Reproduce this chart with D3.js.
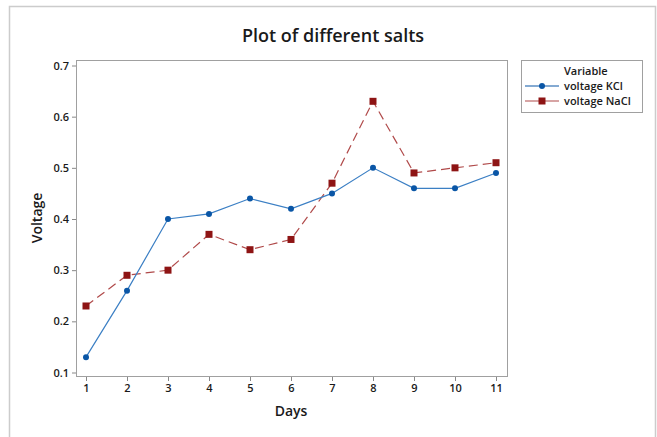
<!doctype html>
<html lang="en">
  <head>
    <title>Plot of different salts</title>
    <style>
      body {
        margin: 0;
        background: #fff;
      }
      svg text {
        font-family: "Open Sans", "Noto Sans", sans-serif;
        fill: #1a1a1a;
      }
    </style>
  </head>
  <body>
    <div id="chart"></div>

    <script src="https://cdn.jsdelivr.net/npm/d3@7"></script>
    <script>
      const days = [1, 2, 3, 4, 5, 6, 7, 8, 9, 10, 11]
      const voltageKCl = [0.13, 0.26, 0.40, 0.41, 0.44, 0.42, 0.45, 0.50, 0.46, 0.46, 0.49]
      const voltageNaCl = [0.23, 0.29, 0.30, 0.37, 0.34, 0.36, 0.47, 0.63, 0.49, 0.50, 0.51]
      const yTicks = [0.1, 0.2, 0.3, 0.4, 0.5, 0.6, 0.7]
      const seriesNames = ['voltage KCl', 'voltage NaCl']

      const width = 657
      const height = 437
      const plot = { left: 76, top: 61, right: 507, bottom: 377 }

      const svg = d3.select('#chart')
        .append('svg')
          .attr('width', width)
          .attr('height', height)

      // outer frame (open at the bottom)
      svg.append('path')
        .attr('d', `M9.5,${height} V6.5 H655.5 V${height}`)
        .attr('fill', 'none')
        .attr('stroke', '#cccccc')
        .attr('stroke-width', 1.5)

      svg.append('text')
        .attr('x', 333)
        .attr('y', 42)
        .attr('text-anchor', 'middle')
        .attr('font-size', 18)
        .attr('font-weight', 600)
        .text('Plot of different salts')

      const x = d3.scaleLinear()
        .domain([1, 11])
        .range([86, 496])

      const y = d3.scaleLinear()
        .domain([0.1, 0.7])
        .range([372.5, 65.5])

      // plot box
      svg.append('rect')
        .attr('x', plot.left + 0.5)
        .attr('y', plot.top - 0.5)
        .attr('width', plot.right - plot.left)
        .attr('height', plot.bottom - plot.top)
        .attr('fill', 'none')
        .attr('stroke', '#a0a0a0')
        .attr('stroke-width', 1)

      const xAxis = d3.axisBottom(x)
        .tickValues(days)
        .tickSize(4)
        .tickPadding(3)
        .tickFormat(d3.format('d'))

      const yAxis = d3.axisLeft(y)
        .tickValues(yTicks)
        .tickSize(4)
        .tickPadding(3)
        .tickFormat(d3.format('.1f'))

      const gx = svg.append('g')
        .attr('transform', `translate(0, ${plot.bottom})`)
        .call(xAxis)
      const gy = svg.append('g')
        .attr('transform', `translate(${plot.left}, 0)`)
        .call(yAxis)

      for (const g of [gx, gy]) {
        g.select('.domain').remove()
        g.selectAll('.tick line').attr('stroke', '#888')
        g.selectAll('.tick text')
          .attr('font-size', 11)
          .attr('font-weight', 600)
          .attr('fill', '#1a1a1a')
          .style('font-family', '"Open Sans", sans-serif')
      }

      svg.append('text')
        .attr('x', 291)
        .attr('y', 416)
        .attr('text-anchor', 'middle')
        .attr('font-size', 14)
        .attr('font-weight', 600)
        .text('Days')

      svg.append('text')
        .attr('transform', 'translate(42, 218) rotate(-90)')
        .attr('text-anchor', 'middle')
        .attr('font-size', 14)
        .attr('font-weight', 600)
        .text('Voltage')

      const line = d3.line()
        .x((d, i) => x(days[i]))
        .y(d => y(d))

      const blue = '#0a56a6'
      const blueLine = '#3b7fc4'
      const red = '#8e1414'
      const redLine = '#b04a4a'

      svg.append('path')
        .datum(voltageNaCl)
        .attr('d', line)
        .attr('fill', 'none')
        .attr('stroke', redLine)
        .attr('stroke-width', 1.2)
        .attr('stroke-dasharray', '9,5')

      svg.append('path')
        .datum(voltageKCl)
        .attr('d', line)
        .attr('fill', 'none')
        .attr('stroke', blueLine)
        .attr('stroke-width', 1.2)

      svg.selectAll('rect.nacl')
        .data(voltageNaCl)
        .enter()
          .append('rect')
            .attr('class', 'nacl')
            .attr('x', (d, i) => x(days[i]) - 3.5)
            .attr('y', d => y(d) - 3.5)
            .attr('width', 7)
            .attr('height', 7)
            .attr('fill', red)

      svg.selectAll('circle.kcl')
        .data(voltageKCl)
        .enter()
          .append('circle')
            .attr('class', 'kcl')
            .attr('cx', (d, i) => x(days[i]))
            .attr('cy', d => y(d))
            .attr('r', 3)
            .attr('fill', blue)

      // legend
      const legend = svg.append('g')
      legend.append('rect')
        .attr('x', 521.5)
        .attr('y', 60.5)
        .attr('width', 121)
        .attr('height', 52)
        .attr('fill', '#fff')
        .attr('stroke', '#a0a0a0')

      legend.append('text')
        .attr('x', 564)
        .attr('y', 75)
        .attr('font-size', 11)
        .attr('font-weight', 600)
        .text('Variable')

      const items = legend.selectAll('g.item')
        .data(seriesNames)
        .enter()
          .append('g')
            .attr('class', 'item')
            .attr('transform', (d, i) => `translate(0, ${86 + i * 15})`)

      items.append('line')
        .attr('x1', 525)
        .attr('x2', 559)
        .attr('stroke', (d, i) => i === 0 ? blue : redLine)
        .attr('stroke-width', 1.2)

      items.each(function (d, i) {
        const g = d3.select(this)
        if (i === 0) {
          g.append('circle').attr('cx', 542).attr('cy', 0).attr('r', 3).attr('fill', blue)
        } else {
          g.append('rect').attr('x', 538.5).attr('y', -3.5).attr('width', 7).attr('height', 7).attr('fill', red)
        }
      })

      items.append('text')
        .attr('x', 564)
        .attr('y', 4)
        .attr('font-size', 11)
        .attr('font-weight', 600)
        .text(d => d)
    </script>
  </body>
</html>
